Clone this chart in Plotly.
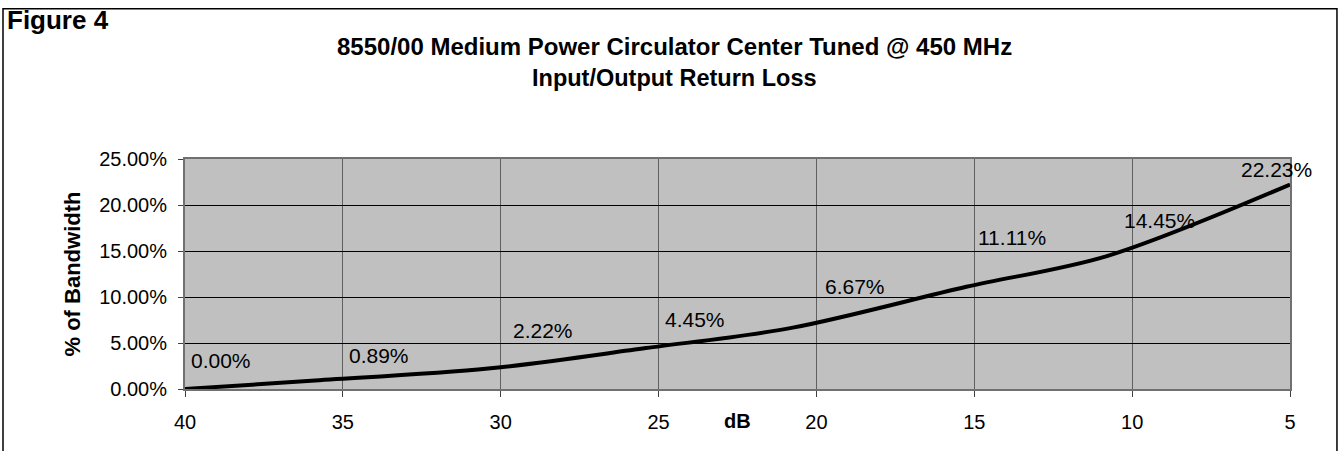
import plotly.graph_objects as go

# return loss (dB) vs bandwidth (fraction of 450 MHz)
return_loss_db = [40, 36, 30.4, 25.4, 20.75, 15.25, 10.8, 5]
bandwidth = [0.0, 0.0089, 0.0222, 0.0445, 0.0667, 0.1111, 0.1445, 0.2223]
point_labels = ["0.00%", "0.89%", "2.22%", "4.45%", "6.67%", "11.11%", "14.45%", "22.23%"]

y_ticks = [0, 0.05, 0.10, 0.15, 0.20, 0.25]
x_ticks = [40, 35, 30, 25, 20, 15, 10, 5]

# label nudges (px), the labels were dragged around in the original sheet
label_dx = [4, 36, 23, 17, 30, 10, 15, -51]
label_dy = [29, 25, 38, 29, 41, 49, 36, 15]

FONT = "Liberation Sans, Arial, sans-serif"

fig = go.Figure()
fig.add_trace(go.Scatter(
    x=return_loss_db, y=bandwidth, mode="lines",
    line=dict(color="black", width=4, shape="spline", smoothing=0.9),
    hoverinfo="skip", showlegend=False,
))

for xv, yv, txt, dx, dy in zip(return_loss_db, bandwidth, point_labels, label_dx, label_dy):
    fig.add_annotation(x=xv, y=yv, text=txt, showarrow=False, xanchor="left", yanchor="middle",
                       xshift=dx, yshift=dy, font=dict(family=FONT, size=21, color="black"))

# outer frame of the chart object
fig.add_shape(type="rect", xref="paper", yref="paper", x0=-0.1647, x1=1.0425, y0=-0.4, y1=1.6536,
              line=dict(color="black", width=1.5), fillcolor="rgba(0,0,0,0)", layer="below")

fig.add_annotation(xref="paper", yref="paper", x=-0.163, y=(388.5 - 20) / 229.5, text="<b>Figure 4</b>",
                   showarrow=False, xanchor="left", yanchor="middle",
                   font=dict(family=FONT, size=26, color="black"))
fig.add_annotation(xref="paper", yref="paper", x=0.443, y=(388.5 - 46.5) / 229.5,
                   text="<b>8550/00 Medium Power Circulator Center Tuned @ 450 MHz</b>",
                   showarrow=False, xanchor="center", yanchor="middle",
                   font=dict(family=FONT, size=24, color="black"))
fig.add_annotation(xref="paper", yref="paper", x=0.443, y=(388.5 - 78.5) / 229.5,
                   text="<b>Input/Output Return Loss</b>",
                   showarrow=False, xanchor="center", yanchor="middle",
                   font=dict(family=FONT, size=23.5, color="black"))
fig.add_annotation(xref="paper", yref="paper", x=0.5, y=-0.14, text="<b>dB</b>",
                   showarrow=False, xanchor="center", yanchor="middle",
                   font=dict(family=FONT, size=20, color="black"))

fig.update_layout(
    width=1343, height=451,
    margin=dict(l=185, r=53, t=159, b=62),
    paper_bgcolor="white", plot_bgcolor="#c0c0c0",
    font=dict(family=FONT, color="black"),
    xaxis=dict(range=[40, 5], tickvals=x_ticks, ticks="outside", ticklen=6, tickcolor="#404040",
               showgrid=True, gridcolor="#606060", gridwidth=1, zeroline=False,
               showline=True, linecolor="#707070", linewidth=2, mirror=True,
               tickfont=dict(size=20), ticklabelstandoff=8),
    yaxis=dict(range=[0, 0.25], tickvals=y_ticks, tickformat=".2%", ticks="outside", ticklen=5,
               tickcolor="#404040", showgrid=True, gridcolor="black", gridwidth=1, zeroline=False,
               showline=True, linecolor="#707070", linewidth=2, mirror=True,
               tickfont=dict(size=20), ticklabelstandoff=7,
               title=dict(text="<b>% of Bandwidth</b>", font=dict(size=22), standoff=12)),
)

# drop the browser's default 8px body margin so the figure sits at the page corner
fig.write_html("out.html", config={"displayModeBar": False},
               post_script="document.body.style.margin='0';")
